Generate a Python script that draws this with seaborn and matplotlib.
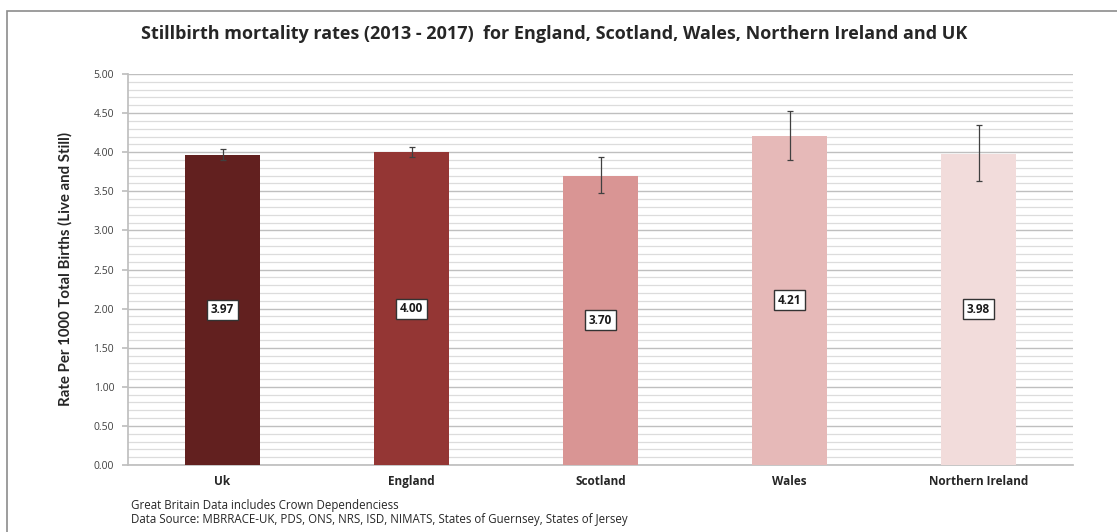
import matplotlib
matplotlib.use("Agg")
import matplotlib.pyplot as plt
import matplotlib.patches as mpatches
from matplotlib.ticker import MultipleLocator
from matplotlib import font_manager
import seaborn as sns
import pandas as pd
import numpy as np

categories = ["Uk", "England", "Scotland", "Wales", "Northern Ireland"]
rates = [3.97, 4.00, 3.70, 4.21, 3.98]
ci_lower = [3.90, 3.94, 3.48, 3.90, 3.63]
ci_upper = [4.04, 4.07, 3.94, 4.53, 4.35]
colors = ["#62201F", "#943634", "#D99594", "#E6B9B8", "#F2DCDB"]
title = "Stillbirth mortality rates (2013 - 2017)  for England, Scotland, Wales, Northern Ireland and UK"
ylabel = "Rate Per 1000 Total Births (Live and Still)"
notes = ["Great Britain Data includes Crown Dependenciess",
         "Data Source: MBRRACE-UK, PDS, ONS, NRS, ISD, NIMATS, States of Guernsey, States of Jersey"]

sns.set_theme(style="white")
plt.rcParams['font.family'] = ['Open Sans', 'DejaVu Sans']

installed = {f.name for f in font_manager.fontManager.ttflist}
narrow = "Liberation Sans Narrow" if "Liberation Sans Narrow" in installed else "Lato"
ylab_size = 12.5 if narrow == "Liberation Sans Narrow" else 10.8

df = pd.DataFrame({"cat": categories, "rate": rates})

fig = plt.figure(figsize=(11.17, 5.32), dpi=100)
ax = fig.add_axes([128/1117, 1 - 465/532, (1073-128)/1117, (465-74)/532])

sns.barplot(data=df, x="cat", y="rate", hue="cat", palette=colors, order=categories,
            hue_order=categories, legend=False, width=0.4, ax=ax, saturation=1,
            linewidth=0, zorder=3)

x = np.arange(len(categories))
yerr = [np.array(rates) - np.array(ci_lower), np.array(ci_upper) - np.array(rates)]
ax.errorbar(x, rates, yerr=yerr, fmt="none", ecolor="#404040", elinewidth=0.9,
            capsize=2.5, capthick=0.9, zorder=5)

for xi, v in zip(x, rates):
    ax.text(xi, v / 2, f"{v:.2f}", ha="center", va="center", fontsize=8.5, fontweight="bold",
            color="#1a1a1a", zorder=6,
            bbox=dict(boxstyle="square,pad=0.3", fc="white", ec="#333333", lw=1.0))

ax.set_ylim(0, 5)
ax.set_xlim(-0.5, 4.5)
ax.yaxis.set_major_locator(MultipleLocator(0.5))
ax.yaxis.set_minor_locator(MultipleLocator(0.1))
ax.grid(axis="y", which="major", color="#BFBFBF", lw=1.0, zorder=0)
ax.grid(axis="y", which="minor", color="#DCDCDC", lw=0.9, zorder=0)
ax.set_axisbelow(True)
ax.yaxis.set_major_formatter(matplotlib.ticker.FormatStrFormatter("%.2f"))

for s in ["top", "right"]:
    ax.spines[s].set_visible(False)
ax.spines["left"].set_color("#BFBFBF")
ax.spines["bottom"].set_color("#BFBFBF")
ax.tick_params(axis="y", which="major", left=True, length=4, color="#BFBFBF",
               labelsize=7.5, labelcolor="#404040", pad=6)
ax.tick_params(axis="x", bottom=False, labelsize=8.5, pad=1)
for lbl in ax.get_xticklabels():
    lbl.set_fontweight("bold")

ax.set_xlabel("")
ax.set_ylabel(ylabel, fontsize=ylab_size, fontweight="bold",
              family=[narrow, "DejaVu Sans"], labelpad=15)

fig.text(554/1117, 1 - 34/532, title, ha="center", va="center", fontsize=13, fontweight="bold")
fig.text(131/1117, 1 - 506/532, notes[0], ha="left", va="center", fontsize=8.3)
fig.text(131/1117, 1 - 520/532, notes[1], ha="left", va="center", fontsize=8.3)

border = mpatches.Rectangle((7/1117, -0.1), 1.2, 1 - 11/532 + 0.1, transform=fig.transFigure,
                            fill=False, ec="#8C8C8C", lw=1.2)
fig.patches.append(border)

fig.savefig("out.png", dpi=100)
